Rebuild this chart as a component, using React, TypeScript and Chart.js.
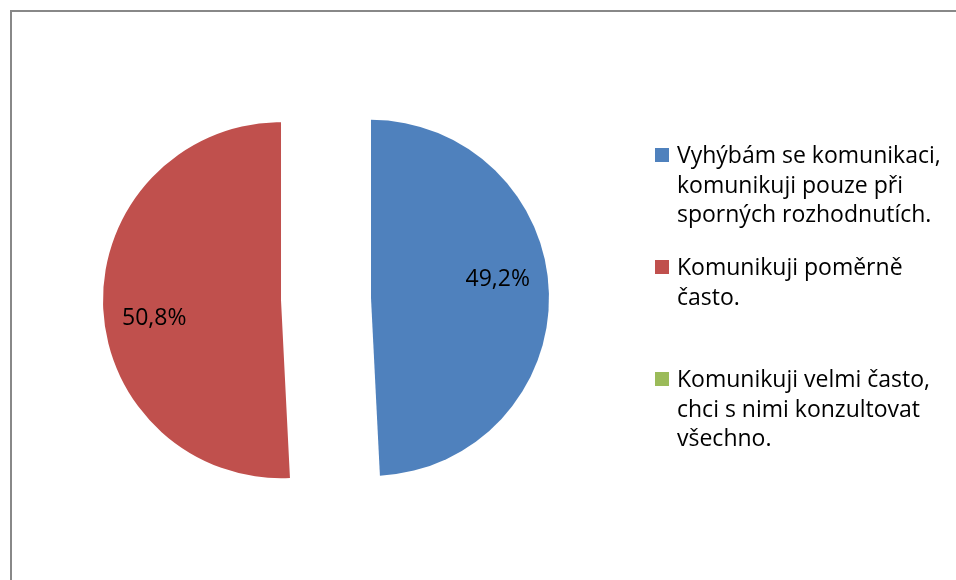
import React, { useEffect, useRef } from "react";
import { Chart, registerables } from "chart.js";

Chart.register(...registerables);

// ---- data ----
const categories: string[][] = [
  ["Vyhýbám se komunikaci,", "komunikuji pouze při", "sporných rozhodnutích."],
  ["Komunikuji poměrně", "často."],
  ["Komunikuji velmi často,", "chci s nimi konzultovat", "všechno."],
];
const values: number[] = [49.2, 50.8, 0];
const valueLabels: string[] = ["49,2%", "50,8%", ""];
const colors: string[] = ["#4F81BD", "#C0504D", "#9BBB59"];

const FONT_FAMILY = "'Open Sans', 'Noto Sans', sans-serif";
const FONT_SIZE = 23;
const EXPLODE = 45;

const framePlugin = {
  id: "frame",
  beforeDraw(chart: any) {
    const ctx = chart.ctx;
    ctx.save();
    ctx.fillStyle = "#ffffff";
    ctx.fillRect(0, 0, chart.width, chart.height);
    ctx.fillStyle = "#888888";
    ctx.fillRect(10, 10, chart.width - 10, 2);
    ctx.fillRect(10, 10, 2, chart.height - 10);
    ctx.restore();
  },
};

// draw each slice pulled out along its bisector (exploded pie)
const explodePlugin = {
  id: "explode",
  beforeDatasetDraw(chart: any, args: any) {
    const ctx = chart.ctx;
    const meta = chart.getDatasetMeta(args.index);
    meta.data.forEach((el: any) => {
      const { startAngle, endAngle, circumference } = el.getProps(
        ["startAngle", "endAngle", "circumference"],
        true
      );
      if (!circumference) return;
      const mid = (startAngle + endAngle) / 2;
      ctx.save();
      ctx.translate(Math.cos(mid) * EXPLODE, Math.sin(mid) * EXPLODE);
      el.draw(ctx, chart.chartArea);
      ctx.restore();
    });
    return false;
  },
};

const valueLabelPlugin = {
  id: "valueLabels",
  afterDatasetsDraw(chart: any) {
    const ctx = chart.ctx;
    const meta = chart.getDatasetMeta(0);
    ctx.save();
    ctx.font = `${FONT_SIZE}px ${FONT_FAMILY}`;
    ctx.fillStyle = "#000000";
    ctx.textAlign = "center";
    ctx.textBaseline = "middle";
    meta.data.forEach((el: any, i: number) => {
      const text = valueLabels[i];
      if (!text) return;
      const { x, y, startAngle, endAngle, outerRadius } = el.getProps(
        ["x", "y", "startAngle", "endAngle", "outerRadius"],
        true
      );
      const mid = (startAngle + endAngle) / 2;
      const cx = x + Math.cos(mid) * EXPLODE;
      const cy = y + Math.sin(mid) * EXPLODE;
      const ang = mid - (7 * Math.PI) / 180;
      const r = 0.72 * outerRadius;
      ctx.fillText(text, cx + Math.cos(ang) * r, cy + Math.sin(ang) * r);
    });
    ctx.restore();
  },
};

const legendPlugin = {
  id: "sideLegend",
  afterDraw(chart: any) {
    const ctx = chart.ctx;
    ctx.save();
    ctx.font = `${FONT_SIZE}px ${FONT_FAMILY}`;
    ctx.textBaseline = "alphabetic";
    ctx.textAlign = "left";
    const boxX = 655;
    const textX = 677;
    const firstBaseline = 163;
    const entryStep = 112;
    const lineStep = 29.5;
    categories.forEach((lines, i) => {
      const base = firstBaseline + i * entryStep;
      ctx.fillStyle = colors[i];
      ctx.fillRect(boxX, base - 15, 14, 14);
      ctx.fillStyle = "#000000";
      lines.forEach((line, j) => {
        ctx.fillText(line, textX, base + j * lineStep);
      });
    });
    ctx.restore();
  },
};

export default function App() {
  const canvasRef = useRef<HTMLCanvasElement | null>(null);

  useEffect(() => {
    if (!canvasRef.current) return;
    const chart = new Chart(canvasRef.current, {
      type: "pie",
      data: {
        labels: categories,
        datasets: [
          {
            data: values,
            backgroundColor: colors,
            borderWidth: 0,
            offset: 0,
            hoverOffset: 0,
          },
        ],
      },
      options: {
        responsive: false,
        animation: false,
        events: [],
        radius: 178,
        layout: { padding: { left: 20, right: 324, top: 40, bottom: 22 } },
        plugins: {
          legend: { display: false },
          tooltip: { enabled: false },
          title: { display: false },
        },
      } as any,
      plugins: [framePlugin, explodePlugin, valueLabelPlugin, legendPlugin],
    });
    return () => chart.destroy();
  }, []);

  return (
    <div
      style={{
        position: "fixed",
        left: 0,
        top: 0,
        width: 956,
        height: 580,
        background: "#ffffff",
      }}
    >
      <canvas ref={canvasRef} width={956} height={580} style={{ display: "block" }} />
    </div>
  );
}
